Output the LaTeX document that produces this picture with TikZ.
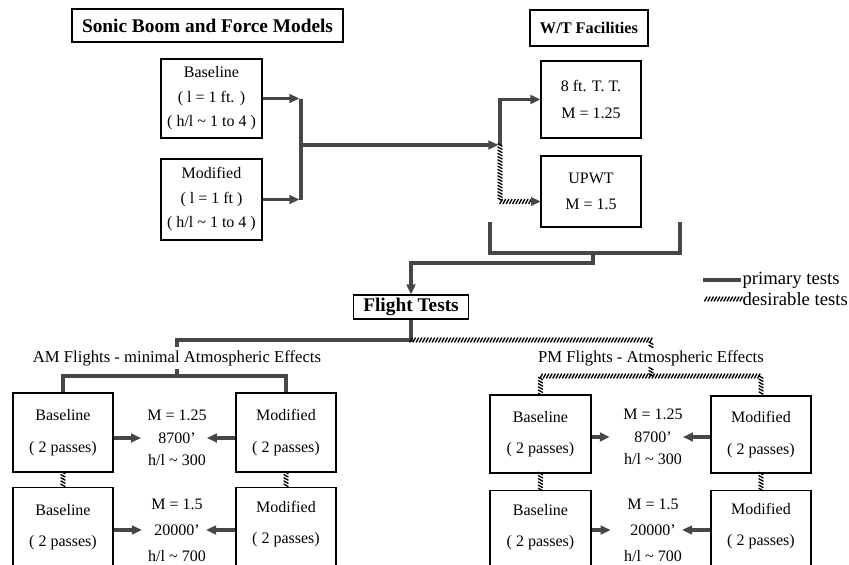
\documentclass[tikz,border=0pt]{standalone}
\usepackage{fontspec}
\setmainfont{Liberation Serif}
\usetikzlibrary{arrows.meta,decorations.markings}

\begin{document}
\begin{tikzpicture}[x=0.75pt, y=-0.75pt,
  box/.style={draw, line width=0.8pt, align=center, inner sep=0pt},
  txt/.style={font=\fontsize{12}{18.4}\selectfont},
  pass/.style={align=center, font=\fontsize{12}{23.5}\selectfont},
  mach/.style={align=center, inner sep=0pt, font=\fontsize{12}{17}\selectfont},
  lbl/.style={inner sep=2pt, font=\fontsize{12.5}{15}\selectfont},
  primary/.style={draw=\LINEGRAY, line width=2.6pt},
  parrow/.style={-{Triangle[length=7.5pt,width=6.5pt]}},
  desirable/.style={decoration={markings,
      mark=between positions 0 and 1 step 2.4pt with
      {\draw[line width=1pt, \HATCHGRAY] (-1pt,-1.8pt) -- (1pt,1.8pt);}},
    postaction=decorate},
  ]

\newcommand\U{0.75pt}
\newcommand\LINEGRAY{black!72}
\newcommand\HATCHGRAY{black}

\useasboundingbox (0,0) rectangle (849,564);
\clip (0,0) rectangle (849,564);

%% models
\node[box, minimum width=271*\U, minimum height=33*\U,
  font=\bfseries\fontsize{14.5}{17}\selectfont] (models) at (207.5,25.5)
  {Sonic Boom and Force Models};
\node[box, txt, minimum width=101*\U, minimum height=79*\U] (base0) at (211.5,98.5)
  {Baseline\\( l = 1 ft. )\\( h/l \textasciitilde{} 1 to 4 )};
\node[box, txt, minimum width=101*\U, minimum height=81*\U] (mod0) at (211.5,199.5)
  {Modified\\( l = 1 ft )\\( h/l \textasciitilde{} 1 to 4 )};

%% wind tunnels
\node[box, minimum width=118*\U, minimum height=36*\U,
  font=\bfseries\fontsize{12.2}{14}\selectfont] (wt) at (589,28) {W/T Facilities};
\node[box, font=\fontsize{12}{20}\selectfont, minimum width=100*\U, minimum height=77*\U]
  (tt8) at (591,99.5) {8 ft. T. T.\\M = 1.25};
\node[box, font=\fontsize{12}{19.5}\selectfont, minimum width=100*\U, minimum height=71*\U]
  (upwt) at (591,191.5) {UPWT\\M = 1.5};

\coordinate (mt) at (301,98.5);
\coordinate (mb) at (301,199.5);
\coordinate (mj) at (301,145);
\coordinate (wj) at (500,145);

\draw[primary] (mt) -- (mb);
\draw[primary, parrow, shorten >=1.2pt] (base0.east) -- (mt);
\draw[primary, parrow, shorten >=1.2pt] (mod0.east) -- (mb);
\draw[primary, parrow, shorten >=1.2pt] (mj) -- (wj);
\draw[primary, parrow] (wj) |- (tt8.west);
\path[desirable] (wj) |- ([xshift=-7pt,yshift=-7.5pt]upwt.west);
\draw[draw=\LINEGRAY, line width=0.6pt, -{Triangle[length=7pt,width=6.5pt]}]
  ([xshift=-7pt,yshift=-7.5pt]upwt.west) -- ([yshift=-7.5pt]upwt.west);

\coordinate (wl) at (490,222);
\coordinate (wr) at (680,222);
\coordinate (wm) at (593,253);
\draw[primary] (wl) |- (wm) -| (wr);

%% flight tests
\node[box, minimum width=115*\U, minimum height=24*\U,
  font=\bfseries\fontsize{14.5}{17}\selectfont] (flight) at (411,307) {Flight Tests};
\draw[primary, parrow] (wm) -- ++(0,10) -| (flight.north);

\node[lbl] (amlbl) at (177,358) {AM Flights - minimal Atmospheric Effects};
\node[lbl] (pmlbl) at (651,358) {PM Flights - Atmospheric Effects};

\coordinate (fj) at (411,340);
\draw[primary] (flight.south) -- (fj) -| (amlbl.north);
\path[desirable] (fj) -| (pmlbl.north);

%% AM flights
\node[box, pass, minimum width=100*\U, minimum height=79*\U] (base1) at (63,432.5)
  {Baseline\\( 2 passes)};
\node[box, pass, minimum width=100*\U, minimum height=79*\U] (mod1) at (286,432.5)
  {Modified\\( 2 passes)};
\node[mach] (mid1) at (177,438) {M = 1.25\\8700'\\h/l \textasciitilde{} 300};

\node[box, minimum width=100*\U, minimum height=110*\U, anchor=north] (base2) at (63,487) {};
\node[box, minimum width=100*\U, minimum height=110*\U, anchor=north] (mod2) at (286,487) {};
\node[pass] (base2t) at (63,527) {Baseline\\( 2 passes)};
\node[pass] (mod2t) at (286,524) {Modified\\( 2 passes)};
\node[mach, font=\fontsize{12}{19.5}\selectfont] (mid2) at (177,530)
  {M = 1.5\\20000'\\h/l \textasciitilde{} 700};

\coordinate (amj) at (177,376);
\draw[primary] (amlbl.south) -- (amj);
\draw[primary] (base1.north) |- (amj) -| (mod1.north);
\path[desirable] (base1.south) -- (base2.north);
\path[desirable] (mod1.south) -- (mod2.north);

\draw[primary, parrow, shorten >=4.5pt] (base1.east |- mid1) -- (mid1.west);
\draw[primary, parrow] (mod1.west |- mid1) -- (mid1.east);
\draw[primary, parrow, shorten >=4.5pt] (base2.east |- mid2) -- (mid2.west);
\draw[primary, parrow] (mod2.west |- mid2) -- (mid2.east);

%% PM flights
\node[box, pass, minimum width=101*\U, minimum height=78*\U] (pbase1) at (540.5,434)
  {Baseline\\( 2 passes)};
\node[box, pass, minimum width=100*\U, minimum height=77*\U] (pmod1) at (761,434.5)
  {Modified\\( 2 passes)};
\node[mach] (pmid1) at (653,437) {M = 1.25\\8700'\\h/l \textasciitilde{} 300};

\node[box, minimum width=101*\U, minimum height=110*\U, anchor=north] (pbase2) at (540.5,490) {};
\node[box, minimum width=100*\U, minimum height=110*\U, anchor=north] (pmod2) at (761,490) {};
\node[pass] (pbase2t) at (540.5,527) {Baseline\\( 2 passes)};
\node[pass] (pmod2t) at (761,526) {Modified\\( 2 passes)};
\node[mach, font=\fontsize{12}{19.5}\selectfont] (pmid2) at (653,530)
  {M = 1.5\\20000'\\h/l \textasciitilde{} 700};

\coordinate (pmj) at (651,376);
\path[desirable] (pmlbl.south) -- (pmj);
\path[desirable] (pbase1.north) |- (pmj) -| (pmod1.north);
\path[desirable] (pbase1.south) -- (pbase2.north);
\path[desirable] (pmod1.south) -- (pmod2.north);

\draw[primary, parrow, shorten >=10pt] (pbase1.east |- pmid1) -- (pmid1.west);
\draw[primary, parrow] (pmod1.west |- pmid1) -- (pmid1.east);
\draw[primary, parrow, shorten >=10pt] (pbase2.east |- pmid2) -- (pmid2.west);
\draw[primary, parrow] (pmod2.west |- pmid2) -- (pmid2.east);

%% legend
\node[lbl, anchor=west, inner sep=1pt, font=\fontsize{14}{16}\selectfont] (lprim) at (741,280) {primary tests};
\node[lbl, anchor=west, inner sep=1pt, font=\fontsize{14}{16}\selectfont] (ldes) at (741,299) {desirable tests};
\draw[primary] (lprim.west) -- ++(-38,0);
\path[desirable] (ldes.west) -- ++(-38,0);

\end{tikzpicture}
\end{document}
